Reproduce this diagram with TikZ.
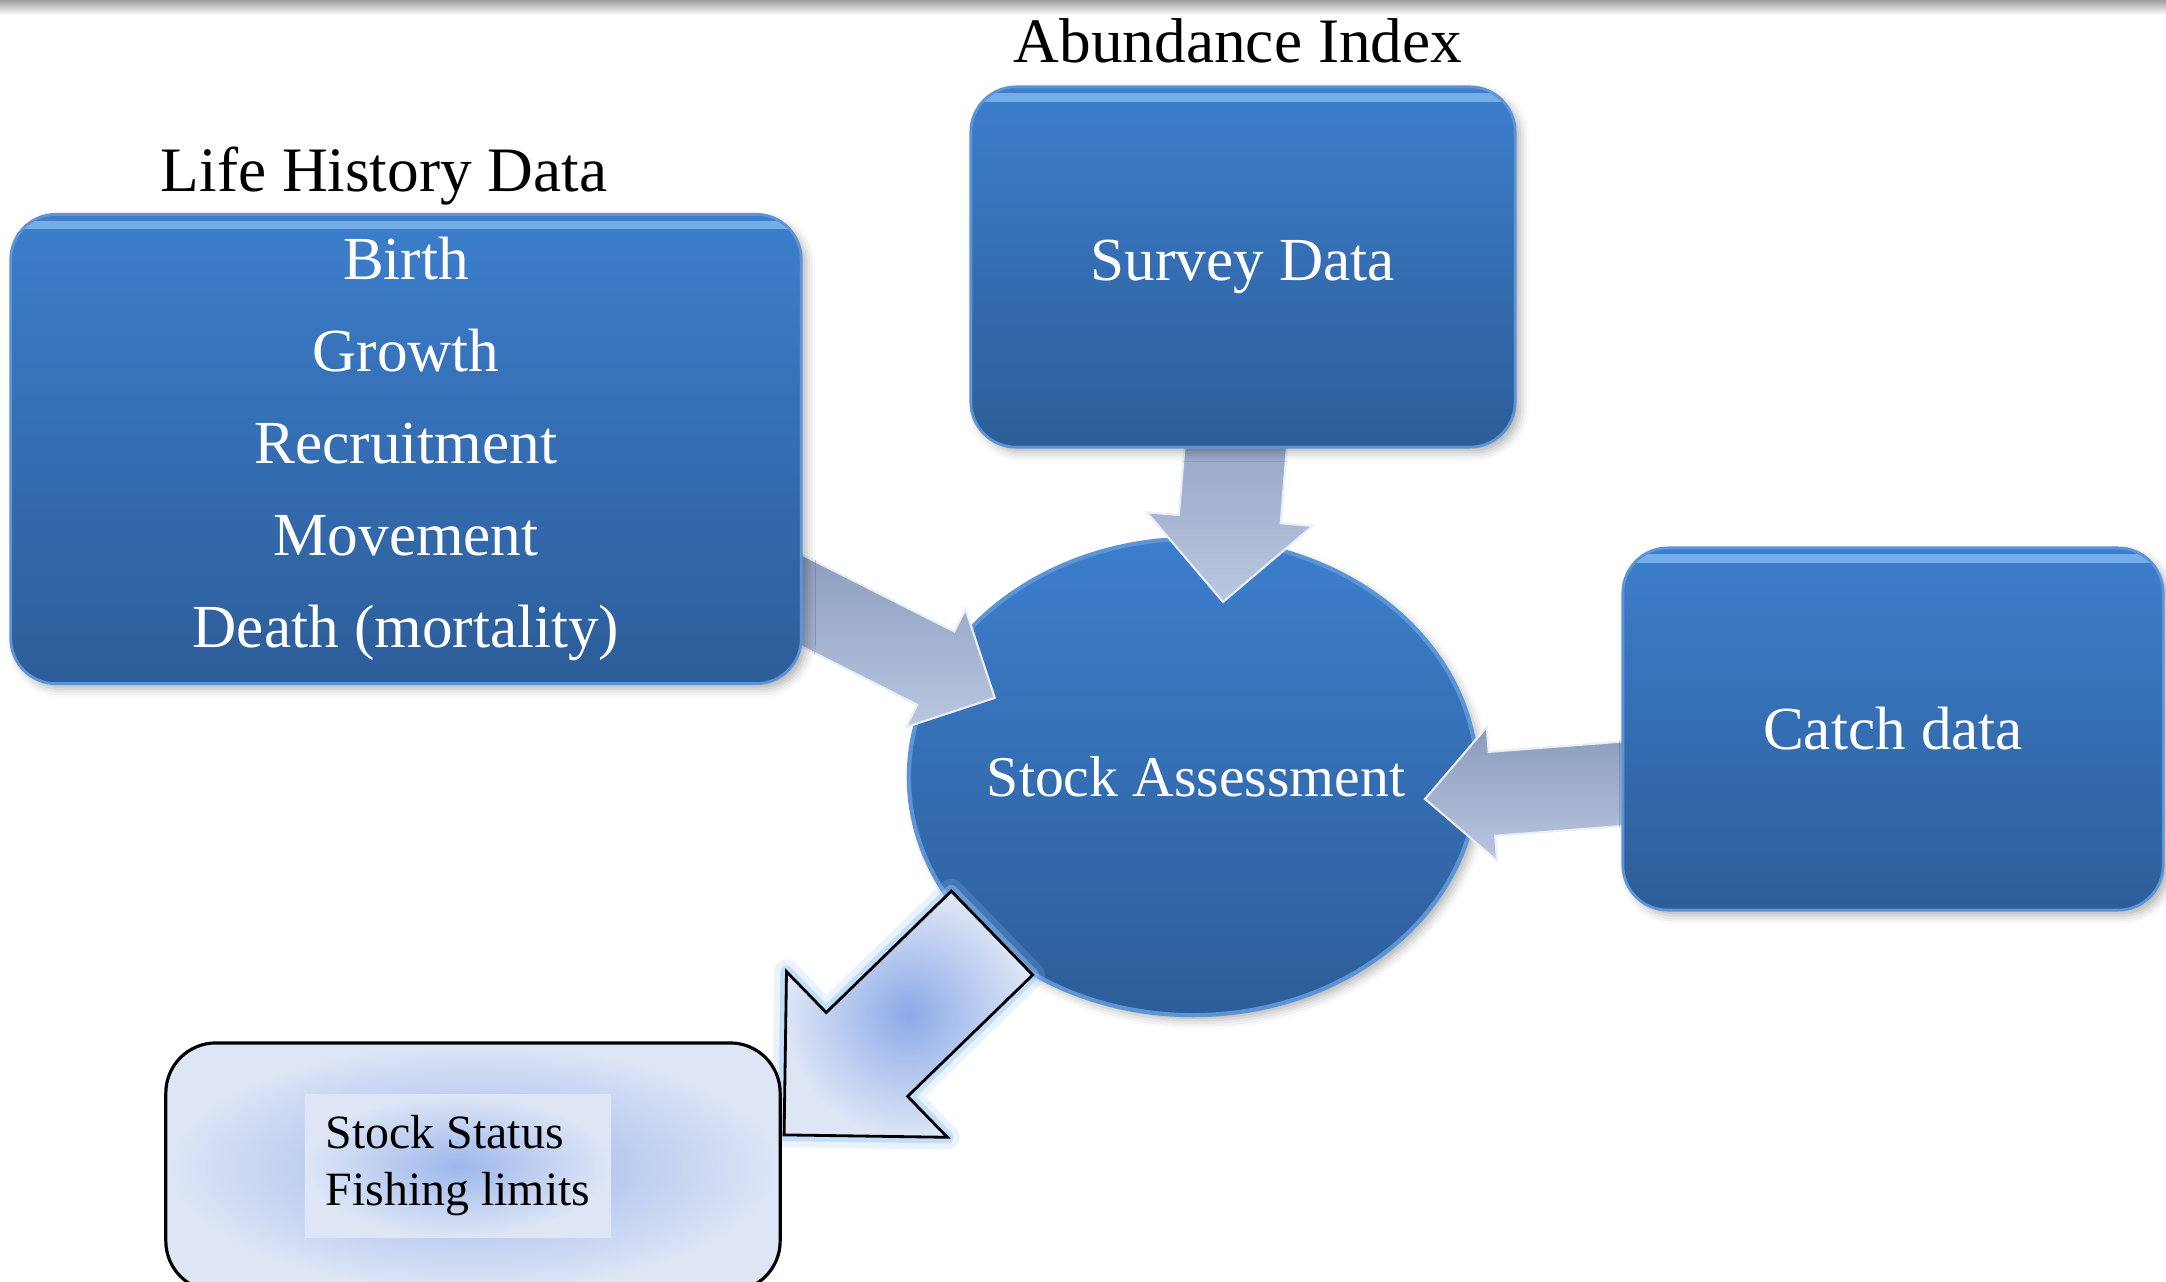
\documentclass[tikz,border=0pt]{standalone}
\usepackage{fontspec}
\setmainfont{Liberation Serif}
\usetikzlibrary{positioning,calc,shapes.geometric,shapes.arrows,shadows.blur}

\definecolor{boxtop}{RGB}{60,126,204}
\definecolor{boxbot}{RGB}{45,93,153}
\definecolor{boxrim}{RGB}{92,148,214}
\definecolor{boxhigh}{RGB}{140,196,246}
\definecolor{arrowdark}{RGB}{138,155,188}
\definecolor{arrowlight}{RGB}{186,199,225}
\definecolor{statusin}{RGB}{140,170,232}
\definecolor{statusout}{RGB}{222,230,246}
\definecolor{glowblue}{RGB}{150,195,245}

\pgfdeclarelayer{circlelayer}
\pgfdeclarelayer{arrowlayer}
\pgfsetlayers{circlelayer,arrowlayer,main}

% block arrow from #2 to #3, shaft width #4, head extend #5
\newcommand{\fatarrow}[5][]{%
  \path let \p1=($(#3)-(#2)$) in
    node[fatarrow, #1, anchor=tail, rotate={atan2(\y1,\x1)},
         minimum height={veclen(\x1,\y1)}, text height=#4,
         single arrow head extend=#5] at (#2) {};}

\begin{document}
\begin{tikzpicture}[x=0.01cm, y=-0.01cm,
  datbox/.style={rectangle, rounded corners=0.45cm, top color=boxtop, bottom color=boxbot,
    draw=boxrim, line width=0.8pt, text=white, align=center, inner sep=0,
    font=\fontsize{17.4}{26.2}\selectfont,
    blur shadow={shadow xshift=1.5pt, shadow yshift=-1.5pt, shadow blur radius=2.5pt, shadow opacity=30},
    path picture={\draw[boxhigh, line width=2.5pt, opacity=.7]
      ([yshift=-3pt]path picture bounding box.north west) -- ([yshift=-3pt]path picture bounding box.north east);}},
  assessnode/.style={ellipse, top color=boxtop, bottom color=boxbot, draw=boxrim, line width=1.2pt,
    minimum width=5.68cm, minimum height=4.76cm, inner sep=0,
    blur shadow={shadow xshift=1.5pt, shadow yshift=-1.5pt, shadow blur radius=2.5pt, shadow opacity=30}},
  headlabel/.style={inner sep=0, font=\fontsize{18}{21.6}\selectfont},
  fatarrow/.style={single arrow, single arrow tip angle=90, inner sep=0, outer sep=0, text depth=0pt},
  grayarrow/.style={top color=arrowdark, bottom color=arrowlight, draw=white!70!arrowlight, line width=0.6pt},
  outarrow/.style={inner color=statusin, outer color=statusout, draw=black, line width=0.8pt, line join=miter,
    preaction={draw=glowblue, line width=7pt, opacity=.2, line join=round},
    preaction={draw=glowblue, line width=3.5pt, opacity=.45, line join=round}},
  statusbox/.style={rectangle, rounded corners=0.5cm, draw=black, line width=0.9pt,
    inner color=statusin!90, outer color=statusout},
  statustext/.style={rectangle, inner color=statusin!85, outer color=statusout, inner sep=0.21cm,
    align=left, font=\fontsize{13.6}{16.2}\selectfont}]
\useasboundingbox (0,0) rectangle (2166,1282);
\shade[top color=gray!75, bottom color=white] (0,0) rectangle (2166,15);

\node[datbox, minimum width=7.90cm, minimum height=4.69cm] (life) at (406,449)
  {Birth\\Growth\\Recruitment\\Movement\\Death (mortality)};
\node[datbox, minimum width=5.44cm, minimum height=3.60cm] (survey) at (1243,267) {Survey Data};
\node[datbox, minimum width=5.40cm, minimum height=3.62cm] (catch) at (1893,729) {Catch data};

\node[headlabel, above=0.7mm of life.north, xshift=-2.2mm] (lifelabel) {Life History Data};
\node[headlabel, above=2.2mm of survey.north, xshift=-0.5mm] (abundlabel) {Abundance Index};

\begin{pgfonlayer}{circlelayer}
\node[assessnode] (assess) at (1193,777) {};
\end{pgfonlayer}
\node[text=white, inner sep=0, font=\fontsize{16.4}{20}\selectfont] (assesstext) at (1196,777) {Stock Assessment};

\node[statusbox, minimum width=6.14cm, minimum height=2.48cm] (status) at (473,1167) {};
\node[statustext] (statuslines) at (458,1166) {Stock Status\\Fishing limits};

\coordinate (lifetail) at (763,581);
\coordinate (lifetip) at (995,698);
\coordinate (surveytail) at (1241,382);
\coordinate (surveytip) at (1223,602);
\coordinate (catchtail) at (1684,779);
\coordinate (catchtip) at (1425,799);
\coordinate (statustail) at (992,933);
\coordinate (statustip) at (784,1135);

\begin{pgfonlayer}{arrowlayer}
\fatarrow[grayarrow, name=lifearrow]{lifetail}{lifetip}{0.80cm}{0.25cm}
\fatarrow[grayarrow, name=surveyarrow]{surveytail}{surveytip}{1.00cm}{0.32cm}
\fatarrow[grayarrow, name=catcharrow]{catchtail}{catchtip}{0.82cm}{0.25cm}
\fatarrow[outarrow, name=statusarrow]{statustail}{statustip}{1.14cm}{0.57cm}
\end{pgfonlayer}
\end{tikzpicture}
\end{document}
